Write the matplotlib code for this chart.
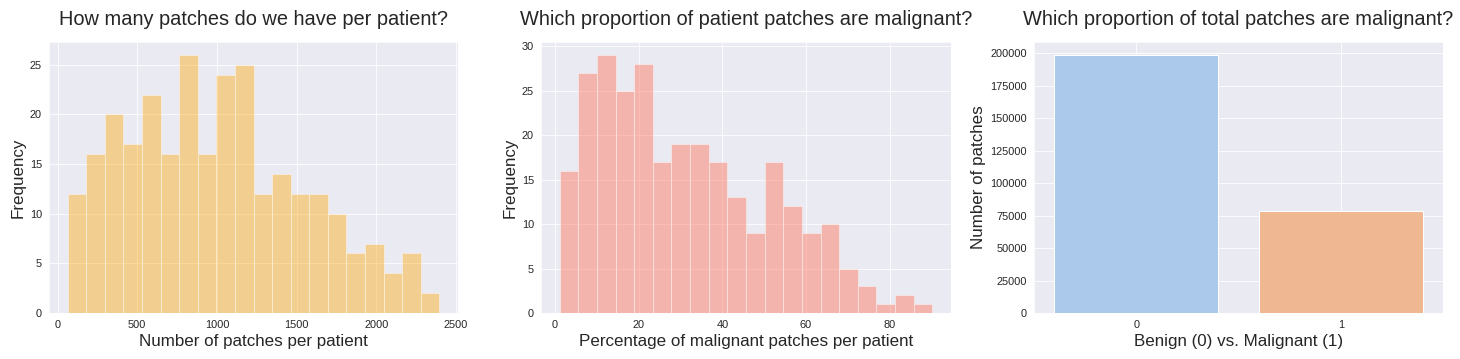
import numpy as np
import matplotlib
matplotlib.use("Agg")
import matplotlib.pyplot as plt
import seaborn as sns

# patches per patient histogram (20 bins)
patch_range = (63, 2395)
patch_counts = [12, 16, 20, 17, 22, 16, 26, 16, 24, 25, 12, 14, 12, 12, 10, 6, 7, 4, 6, 2]

# percentage of malignant patches per patient (20 bins)
pct_range = (1.1, 90.2)
pct_counts = [16, 27, 29, 25, 28, 17, 19, 19, 17, 13, 9, 17, 12, 9, 10, 5, 3, 1, 2, 1]

# total patches by class
classes = ["0", "1"]
class_totals = [198738, 78786]

sns.set_style("darkgrid")
plt.rcParams["font.family"] = ["Liberation Sans", "DejaVu Sans"]

fig = plt.figure(figsize=(1460 / 72, 359 / 72), dpi=72)
W, H = 1460, 359


def axes_at(left, right, top, bottom):
    return fig.add_axes([left / W, 1 - bottom / H, (right - left) / W, (bottom - top) / H])


ax1 = axes_at(49, 458, 42, 313)
ax2 = axes_at(541, 951, 42, 313)
ax3 = axes_at(1034, 1443, 42, 313)

# General settings
title_kw = dict(fontsize=20, pad=17)
label_kw = dict(fontsize=17)

# Panel 1
edges = np.linspace(patch_range[0], patch_range[1], len(patch_counts) + 1)
ax1.bar(edges[:-1], patch_counts, width=np.diff(edges), align="edge",
        color="orange", alpha=0.4, edgecolor="white", linewidth=1)
ax1.set_xticks([0, 500, 1000, 1500, 2000, 2500])
ax1.set_title("How many patches do we have per patient?", **title_kw)
ax1.set_xlabel("Number of patches per patient", **label_kw)
ax1.set_ylabel("Frequency", **label_kw)

# Panel 2
edges = np.linspace(pct_range[0], pct_range[1], len(pct_counts) + 1)
ax2.bar(edges[:-1], pct_counts, width=np.diff(edges), align="edge",
        color="tomato", alpha=0.4, edgecolor="white", linewidth=1)
ax2.set_xticks([0, 20, 40, 60, 80])
ax2.set_title("Which proportion of patient patches are malignant?", **title_kw)
ax2.set_xlabel("Percentage of malignant patches per patient", **label_kw)
ax2.set_ylabel("Frequency", **label_kw)

# Panel 3
pal = [sns.desaturate(c, 0.75) for c in sns.color_palette("pastel")[:2]]
ax3.bar(classes, class_totals, width=0.8, color=pal, edgecolor="white", linewidth=1)
ax3.set_xlim(-0.5, 1.5)
ax3.set_title("Which proportion of total patches are malignant?", **title_kw)
ax3.set_xlabel("Benign (0) vs. Malignant (1)", **label_kw)
ax3.set_ylabel("Number of patches", **label_kw)

for ax in (ax1, ax2, ax3):
    ax.tick_params(labelsize=11)

fig.savefig("out.png", dpi=72)
